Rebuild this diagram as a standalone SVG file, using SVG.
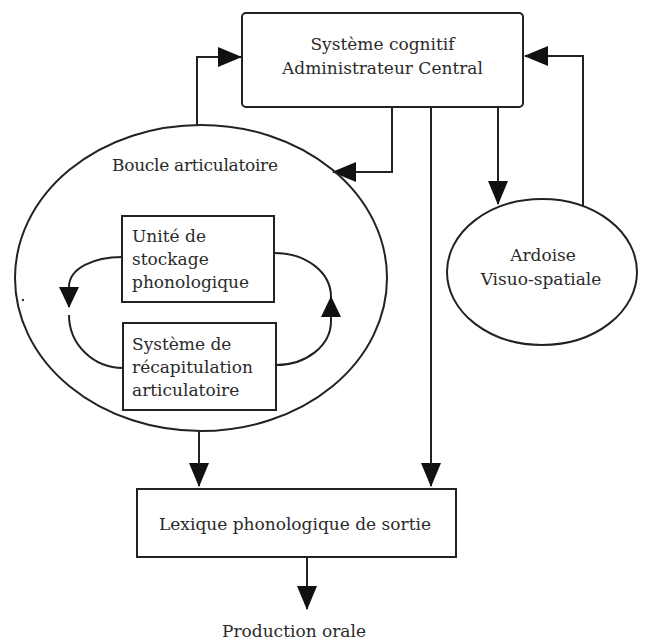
<svg xmlns="http://www.w3.org/2000/svg" width="645" height="642" viewBox="0 0 645 642">
  <style>
    .shape { fill: #ffffff; stroke: #222222; stroke-width: 2; }
    .wire { fill: none; stroke: #222222; stroke-width: 2; }
    .lbl { font-family: "DejaVu Serif", "Liberation Serif", serif; font-size: 17px; fill: #2a2a2a; }
    .mid { text-anchor: middle; }
  </style>
  <defs>
    <marker id="ah" markerUnits="userSpaceOnUse" markerWidth="24" markerHeight="20" refX="23" refY="10" orient="auto">
      <path d="M0,0 L24,10 L0,20 Z" fill="#111111"/>
    </marker>
    <marker id="ahs" markerUnits="userSpaceOnUse" markerWidth="21" markerHeight="20" refX="20" refY="10" orient="auto">
      <path d="M0,0 L21,10 L0,20 Z" fill="#111111"/>
    </marker>
  </defs>
  <rect width="645" height="642" fill="#ffffff"/>

  <g id="connectors">
    <polyline class="wire" points="197,125 197,57 241,57" marker-end="url(#ah)"/>
    <polyline class="wire" points="392,107 392,172 333,172" marker-end="url(#ah)"/>
    <line class="wire" x1="498" y1="107" x2="498" y2="204" marker-end="url(#ah)"/>
    <polyline class="wire" points="583,206 583,56 525,56" marker-end="url(#ah)"/>
    <line class="wire" x1="431" y1="107" x2="431" y2="486" marker-end="url(#ah)"/>
    <line class="wire" x1="199" y1="431" x2="199" y2="486" marker-end="url(#ah)"/>
    <line class="wire" x1="307" y1="557" x2="307" y2="609" marker-end="url(#ah)"/>
    <path class="wire" d="M122,257 C94,257 69,268 69,287 L69,307" marker-end="url(#ahs)"/>
    <path class="wire" d="M69,315 C69,345 94,368 123,368"/>
    <path class="wire" d="M274,253 C306,253 331,272 331,297"/>
    <path class="wire" d="M276,365 C306,365 331,346 331,321 L331,297" marker-end="url(#ahs)"/>
  </g>

  <g id="central">
    <rect class="shape" x="242" y="13" width="281" height="94" rx="4"/>
    <text class="lbl mid" x="382.5" y="50">Système cognitif</text>
    <text class="lbl mid" x="382.5" y="74">Administrateur Central</text>
  </g>

  <g id="boucle">
    <ellipse class="shape" cx="201" cy="278" rx="186" ry="153" style="fill:none"/>
    <text class="lbl" x="112" y="171" textLength="166">Boucle articulatoire</text>
  </g>

  <g id="stockage">
    <rect class="shape" x="122" y="216" width="152" height="86"/>
    <text class="lbl" x="132" y="242">Unité de</text>
    <text class="lbl" x="132" y="265">stockage</text>
    <text class="lbl" x="132" y="288">phonologique</text>
  </g>

  <g id="recapitulation">
    <rect class="shape" x="123" y="323" width="153" height="87"/>
    <text class="lbl" x="132" y="350">Système de</text>
    <text class="lbl" x="132" y="373">récapitulation</text>
    <text class="lbl" x="132" y="396">articulatoire</text>
  </g>

  <g id="ardoise">
    <ellipse class="shape" cx="542" cy="272" rx="95" ry="73"/>
    <text class="lbl mid" x="543" y="261">Ardoise</text>
    <text class="lbl mid" x="541" y="285">Visuo-spatiale</text>
  </g>

  <g id="lexique">
    <rect class="shape" x="137" y="489" width="319" height="68"/>
    <text class="lbl mid" x="295" y="530">Lexique phonologique de sortie</text>
  </g>

  <g id="production">
    <text class="lbl mid" x="294" y="637">Production orale</text>
  </g>

  <circle cx="23" cy="300" r="1.2" fill="#333333"/>
</svg>
